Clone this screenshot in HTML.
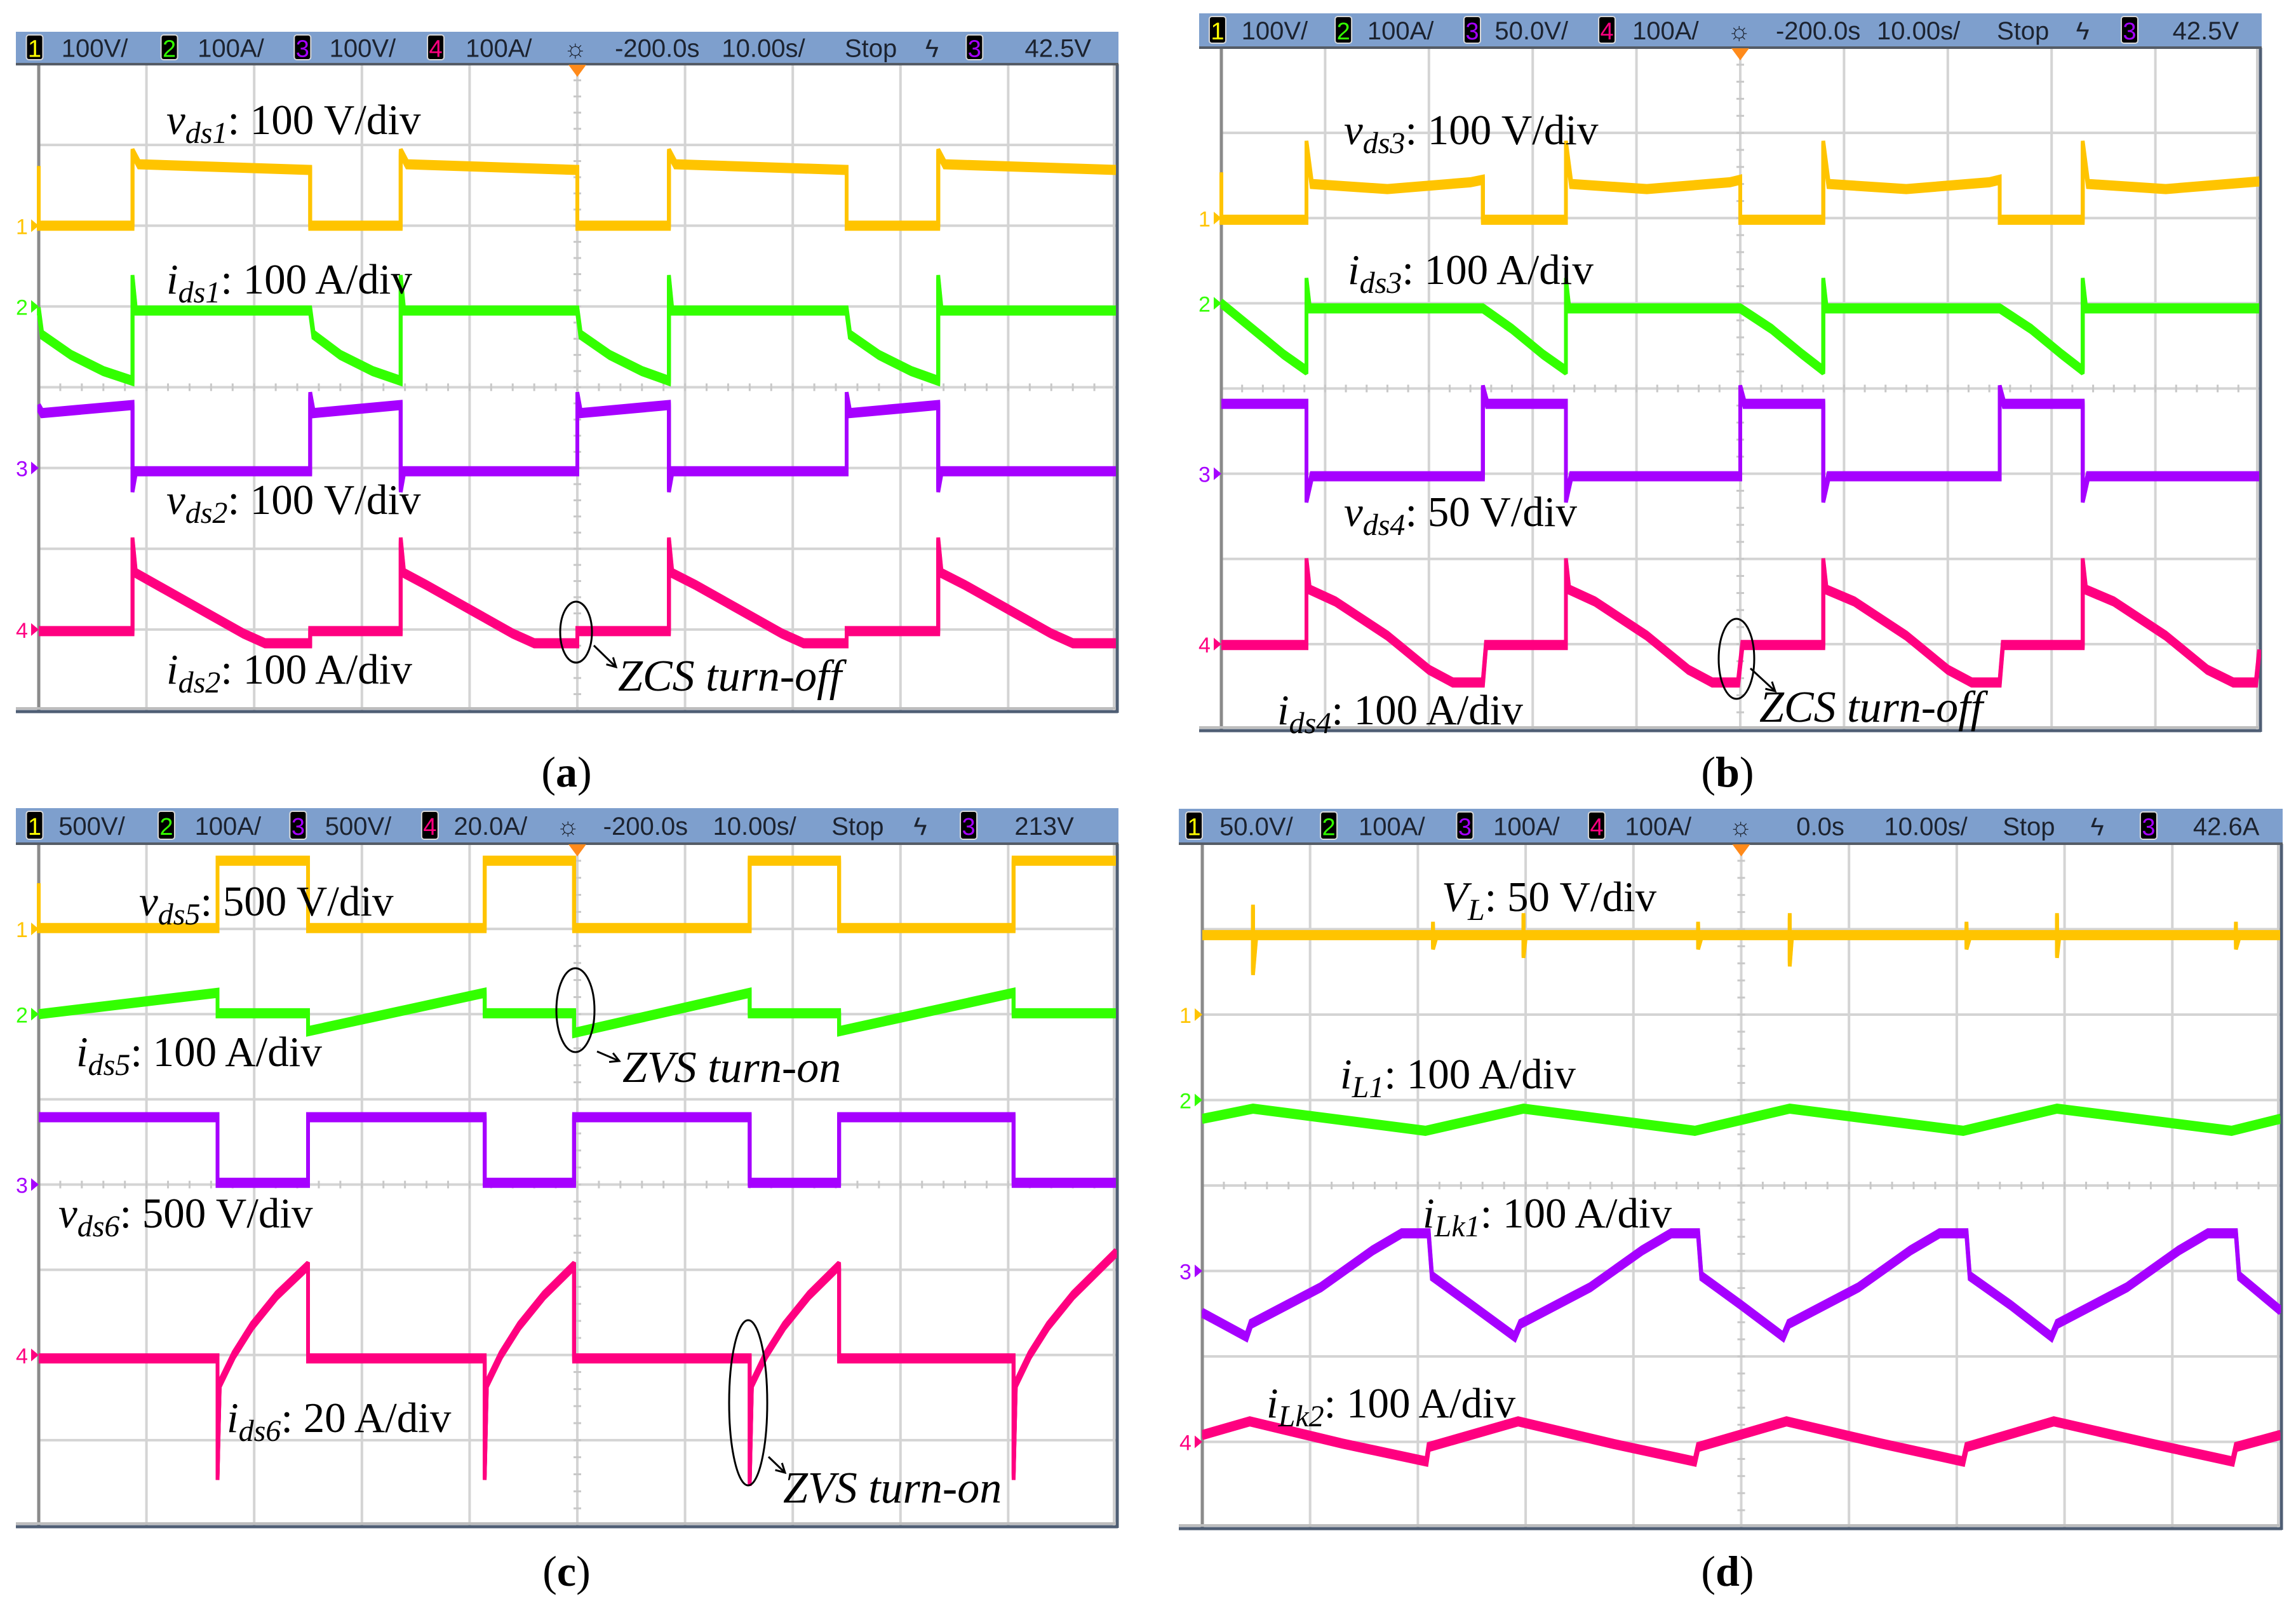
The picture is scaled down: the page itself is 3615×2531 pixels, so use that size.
<!DOCTYPE html>
<html><head><meta charset="utf-8">
<style>
html,body{margin:0;padding:0;background:#fff;}
svg{display:block;}
.hd{font-family:"Liberation Sans Narrow","Liberation Sans",sans-serif;font-size:40px;fill:#1c2330;}
.lb{font-family:"Liberation Serif",serif;font-size:67px;fill:#000;}
.nt{font-family:"Liberation Serif",serif;font-size:70px;fill:#000;font-style:italic;}
.sub{font-style:italic;font-size:48px;}
.it{font-style:italic;}
.cap{font-family:"Liberation Serif",serif;font-size:68px;fill:#000;}
</style></head>
<body>
<svg id="fig" width="3615" height="2531" viewBox="0 0 3615 2531" xmlns="http://www.w3.org/2000/svg"></svg>
<script>
// ---------- data (time in divisions 0-10, value in divisions 0-8 from top) ----------
const a_vds1 = [[0,1.3],[0,2.0],[0.87,2.0],[0.87,1.09],[0.93,1.24],[2.52,1.31],[2.52,2.0],[3.36,2.0],[3.36,1.09],[3.42,1.24],[5.0,1.31],[5.0,2.0],[5.85,2.0],[5.85,1.09],[5.91,1.24],[7.5,1.31],[7.5,2.0],[8.35,2.0],[8.35,1.09],[8.41,1.24],[10,1.31]];
const a_ids1 = [[0,3.05],[0.03,3.35],[0.3,3.6],[0.6,3.8],[0.87,3.92],[0.87,2.65],[0.9,3.05],[2.52,3.05],[2.55,3.35],[2.8,3.6],[3.1,3.8],[3.36,3.92],[3.36,2.65],[3.39,3.05],[5.0,3.05],[5.03,3.35],[5.3,3.6],[5.6,3.8],[5.85,3.92],[5.85,2.65],[5.88,3.05],[7.5,3.05],[7.53,3.35],[7.8,3.6],[8.1,3.8],[8.35,3.92],[8.35,2.65],[8.38,3.05],[10,3.05]];
const a_vds2 = [[0,4.25],[0.03,4.32],[0.87,4.22],[0.87,5.26],[0.9,5.04],[2.52,5.04],[2.52,4.1],[2.55,4.32],[3.36,4.22],[3.36,5.26],[3.39,5.04],[5.0,5.04],[5.0,4.1],[5.03,4.32],[5.85,4.22],[5.85,5.26],[5.88,5.04],[7.5,5.04],[7.5,4.1],[7.53,4.32],[8.35,4.22],[8.35,5.26],[8.38,5.04],[10,5.04]];
const a_ids2 = [[0,7.02],[0.87,7.02],[0.87,5.9],[0.9,6.3],[1.1,6.45],[1.5,6.75],[1.9,7.05],[2.1,7.17],[2.52,7.17],[2.52,7.02],[3.36,7.02],[3.36,5.9],[3.39,6.3],[3.6,6.45],[4.0,6.75],[4.4,7.05],[4.6,7.17],[5.0,7.17],[5.0,7.02],[5.85,7.02],[5.85,5.9],[5.88,6.3],[6.1,6.45],[6.5,6.75],[6.9,7.05],[7.1,7.17],[7.5,7.17],[7.5,7.02],[8.35,7.02],[8.35,5.9],[8.38,6.3],[8.6,6.45],[9.0,6.75],[9.4,7.05],[9.6,7.17],[10,7.17]];

const b_vds3 = [[0,1.5],[0,2.02],[0.82,2.02],[0.82,1.13],[0.87,1.6],[1.6,1.66],[2.4,1.58],[2.52,1.55],[2.52,2.02],[3.32,2.02],[3.32,1.13],[3.37,1.6],[4.1,1.66],[4.9,1.58],[5.0,1.55],[5.0,2.02],[5.8,2.02],[5.8,1.13],[5.85,1.6],[6.6,1.66],[7.4,1.58],[7.5,1.55],[7.5,2.02],[8.3,2.02],[8.3,1.13],[8.35,1.6],[9.1,1.66],[10,1.57]];
const b_ids3 = [[0,3.0],[0.3,3.3],[0.6,3.6],[0.82,3.79],[0.82,2.74],[0.85,3.06],[2.52,3.06],[2.8,3.3],[3.1,3.6],[3.32,3.79],[3.32,2.74],[3.35,3.06],[5.0,3.06],[5.3,3.3],[5.6,3.6],[5.8,3.79],[5.8,2.74],[5.83,3.06],[7.5,3.06],[7.8,3.3],[8.1,3.6],[8.3,3.79],[8.3,2.74],[8.33,3.06],[10,3.06]];
const b_vds4 = [[0,4.18],[0.82,4.18],[0.82,5.3],[0.87,5.03],[2.52,5.03],[2.52,4.0],[2.56,4.18],[3.32,4.18],[3.32,5.3],[3.37,5.03],[5.0,5.03],[5.0,4.0],[5.04,4.18],[5.8,4.18],[5.8,5.3],[5.85,5.03],[7.5,5.03],[7.5,4.0],[7.54,4.18],[8.3,4.18],[8.3,5.3],[8.35,5.03],[10,5.03]];
const b_ids4 = [[0,7.01],[0.82,7.01],[0.82,6.03],[0.85,6.36],[1.1,6.5],[1.6,6.9],[2.0,7.3],[2.23,7.45],[2.52,7.45],[2.55,7.01],[3.32,7.01],[3.32,6.03],[3.35,6.36],[3.6,6.5],[4.1,6.9],[4.5,7.3],[4.73,7.45],[4.98,7.45],[5.02,7.01],[5.8,7.01],[5.8,6.03],[5.83,6.36],[6.1,6.5],[6.6,6.9],[7.0,7.3],[7.23,7.45],[7.5,7.45],[7.53,7.01],[8.3,7.01],[8.3,6.03],[8.33,6.36],[8.6,6.5],[9.1,6.9],[9.5,7.3],[9.75,7.45],[9.97,7.45],[10,7.1]];

const c_vds5 = [[0,0.5],[0,0.99],[1.66,0.99],[1.66,0.2],[2.5,0.2],[2.5,0.99],[4.14,0.99],[4.14,0.2],[4.97,0.2],[4.97,0.99],[6.6,0.99],[6.6,0.2],[7.43,0.2],[7.43,0.99],[9.05,0.99],[9.05,0.2],[10,0.2]];
const c_ids5 = [[0,2.0],[1.66,1.75],[1.66,1.99],[2.5,1.99],[2.5,2.2],[4.14,1.75],[4.14,1.99],[4.97,1.99],[4.97,2.22],[6.6,1.75],[6.6,1.99],[7.43,1.99],[7.43,2.2],[9.05,1.75],[9.05,1.99],[10,1.99]];
const c_vds6 = [[0,3.21],[1.66,3.21],[1.66,3.98],[2.5,3.98],[2.5,3.21],[4.14,3.21],[4.14,3.98],[4.97,3.98],[4.97,3.21],[6.6,3.21],[6.6,3.98],[7.43,3.98],[7.43,3.21],[9.05,3.21],[9.05,3.98],[10,3.98]];
const c_ids6 = [[0,6.04],[1.66,6.04],[1.66,7.43],[1.68,6.34],[1.81,6.0],[1.98,5.66],[2.21,5.3],[2.5,4.95],[2.5,6.04],[4.14,6.04],[4.14,7.43],[4.16,6.34],[4.29,6.0],[4.46,5.66],[4.69,5.3],[4.97,4.95],[4.97,6.04],[6.6,6.04],[6.6,7.5],[6.62,6.34],[6.75,6.0],[6.92,5.66],[7.15,5.3],[7.43,4.95],[7.43,6.04],[9.05,6.04],[9.05,7.43],[9.07,6.34],[9.2,6.0],[9.37,5.66],[9.6,5.3],[10,4.8]];

const d_vl = [[0,1.07],[0.47,1.07],[0.47,0.75],[0.47,1.5],[0.5,1.07],[2.14,1.07],[2.14,0.95],[2.14,1.2],[2.17,1.07],[2.98,1.07],[2.98,0.85],[2.98,1.3],[3.0,1.07],[4.6,1.07],[4.6,0.95],[4.6,1.2],[4.63,1.07],[5.45,1.07],[5.45,0.85],[5.45,1.4],[5.47,1.07],[7.09,1.07],[7.09,0.95],[7.09,1.2],[7.12,1.07],[7.93,1.07],[7.93,0.85],[7.93,1.3],[7.95,1.07],[9.59,1.07],[9.59,0.95],[9.59,1.2],[9.62,1.07],[10,1.07]];
const d_il1 = [[0,3.22],[0.47,3.1],[2.07,3.36],[2.98,3.1],[4.57,3.36],[5.45,3.1],[7.06,3.36],[7.93,3.1],[9.55,3.36],[10,3.22]];
const d_ilk1 = [[0,5.49],[0.41,5.77],[0.45,5.62],[1.1,5.19],[1.58,4.76],[1.85,4.56],[2.1,4.56],[2.13,5.06],[2.5,5.4],[2.9,5.77],[2.95,5.62],[3.6,5.19],[4.08,4.76],[4.35,4.56],[4.6,4.56],[4.63,5.06],[5.0,5.4],[5.39,5.77],[5.44,5.62],[6.09,5.19],[6.57,4.76],[6.84,4.56],[7.09,4.56],[7.12,5.06],[7.5,5.4],[7.88,5.77],[7.93,5.62],[8.58,5.19],[9.06,4.76],[9.33,4.56],[9.59,4.56],[9.62,5.06],[10,5.46]];
const d_ilk2 = [[0,6.92],[0.44,6.76],[1.3,7.02],[2.08,7.23],[2.1,7.06],[2.93,6.76],[3.8,7.02],[4.57,7.23],[4.6,7.06],[5.42,6.76],[6.3,7.02],[7.06,7.23],[7.09,7.06],[7.9,6.76],[8.8,7.02],[9.56,7.23],[9.59,7.06],[10,6.92]];

const colYellow="#ffc400", colGreen="#33ff00", colPurple="#a600ff", colPink="#ff0080";

// ---------- panel geometry ----------
const panels = {
  a:{x0:61,x1:1757,y0:101,y1:1118,hx:25,hy:50,hh:51},
  b:{x0:1923,x1:3557,y0:75,y1:1148,hx:1888,hy:21,hh:54},
  c:{x0:61,x1:1757,y0:1328,y1:2401,hx:25,hy:1272,hh:56},
  d:{x0:1893,x1:3590,y0:1328,y1:2404,hx:1856,hy:1273,hh:55}
};
const NS="http://www.w3.org/2000/svg";
const svg=document.getElementById('fig');
function mk(tag,attrs,parent){const e=document.createElementNS(NS,tag);for(const k in attrs)e.setAttribute(k,attrs[k]);(parent||svg).appendChild(e);return e;}
function xs(p,t){return p.x0+(p.x1-p.x0)*t/10;}
function ys(p,v){return p.y0+(p.y1-p.y0)*v/8;}

function drawPanel(key){
  const p=panels[key];
  const g=mk('g',{});
  
  
  const grid=mk('g',{},g);
  
  
  for(let i=1;i<10;i++){const x=xs(p,i);mk('line',{x1:x,y1:p.y0,x2:x,y2:p.y1,stroke:'#d4d4d4','stroke-width':4},grid);}
  for(let j=1;j<8;j++){const y=ys(p,j);mk('line',{x1:p.x0,y1:y,x2:p.x1,y2:y,stroke:'#d4d4d4','stroke-width':4},grid);}
  const cx=xs(p,5), cy=ys(p,4);
  for(let k=1;k<40;k++){const y=p.y0+(p.y1-p.y0)*k/40;mk('line',{x1:cx-6,y1:y,x2:cx+6,y2:y,stroke:'#c8c8c8','stroke-width':3},grid);}
  for(let k=1;k<50;k++){const x=p.x0+(p.x1-p.x0)*k/50;mk('line',{x1:x,y1:cy-6,x2:x,y2:cy+6,stroke:'#c8c8c8','stroke-width':3},grid);}
  mk('line',{x1:p.x0,y1:p.y0,x2:p.x0,y2:p.y1,stroke:'#8a8a8a','stroke-width':5},g);
  mk('line',{x1:p.hx,y1:p.y1+2,x2:p.x1+3,y2:p.y1+2,stroke:'#4f5e74','stroke-width':5},g);
  mk('line',{x1:p.x1+2,y1:p.y0,x2:p.x1+2,y2:p.y1+4,stroke:'#4f5e74','stroke-width':5},g);
  mk('line',{x1:p.x1-3,y1:p.y0,x2:p.x1-3,y2:p.y1,stroke:'#cfcfcf','stroke-width':4},g);
  mk('line',{x1:p.hx,y1:p.y1-3,x2:p.x1,y2:p.y1-3,stroke:'#bdbdbd','stroke-width':4},g);
  const hb=mk('rect',{x:p.hx,y:p.hy,width:p.x1+4-p.hx,height:p.hh,fill:'#7e9fcd'},g);
  
  
  mk('line',{x1:p.hx,y1:p.hy+p.hh,x2:p.x1+4,y2:p.hy+p.hh,stroke:'#555c66','stroke-width':4},g);
  mk('polygon',{points:`${cx-14},${p.y0+1} ${cx+14},${p.y0+1} ${cx},${p.y0+20}`,fill:'#ff8a1a'},g);
  return g;
}

function drawTrace(key,data,color,name){
  const p=panels[key];
  const pts=data.map(d=>xs(p,d[0]).toFixed(1)+','+ys(p,d[1]).toFixed(1)).join(' ');
  const g=mk('g',{});
  
  
  [-5,-2.5,0,2.5,5].forEach(dy=>{
    mk('polyline',{points:pts,fill:'none',stroke:color,'stroke-width':6,'stroke-linejoin':'miter','stroke-miterlimit':2,transform:`translate(0,${dy})`},g);
  });
}

function chMarker(key,label,v,color){
  const p=panels[key];const y=ys(p,v);
  const t=mk('text',{x:p.x0-36,y:y+13,'font-family':'Liberation Sans, sans-serif','font-size':34,fill:color});
  t.textContent=label;
  
  
  mk('polygon',{points:`${p.x0-12},${y-10} ${p.x0},${y} ${p.x0-12},${y+10}`,fill:color});
}

function header(key,items){
  items.forEach(it=>{
    if(it.box){
      const r=mk('rect',{x:it.x,y:panels[key].hy+5,width:26,height:panels[key].hh-12,rx:4,fill:'#000',stroke:'#d8d8d8','stroke-width':2});
      
      
      const t=mk('text',{x:it.x+13,y:panels[key].hy+panels[key].hh/2+14,'text-anchor':'middle','font-family':'Liberation Sans, sans-serif','font-size':38,fill:it.c});
      t.textContent=it.box;
    } else {
      const t=mk('text',{x:it.x,y:panels[key].hy+panels[key].hh/2+14,class:'hd'});
      t.textContent=it.t;
      
      
    }
  });
}

function label(x,y,main,sub,rest,name){
  const t=mk('text',{x:x,y:y,class:'lb'});
  
  
  const a=mk('tspan',{class:'it'},t);a.textContent=main;
  const b=mk('tspan',{class:'sub',dy:14},t);b.textContent=sub;
  const c=mk('tspan',{dy:-14},t);c.textContent=rest;
}
function note(x,y,txt,name){
  const t=mk('text',{x:x,y:y,class:'nt'});t.textContent=txt;
  
  
}
function ell(cx,cy,rx,ry,ax1,ay1,ax2,ay2,name){
  const e=mk('ellipse',{cx:cx,cy:cy,rx:rx,ry:ry,fill:'none',stroke:'#000','stroke-width':3});
  
  
  mk('line',{x1:ax1,y1:ay1,x2:ax2,y2:ay2,stroke:'#000','stroke-width':3});
  const ang=Math.atan2(ay2-ay1,ax2-ax1);
  const L=16;
  mk('polyline',{points:`${ax2-L*Math.cos(ang-0.5)},${ay2-L*Math.sin(ang-0.5)} ${ax2},${ay2} ${ax2-L*Math.cos(ang+0.5)},${ay2-L*Math.sin(ang+0.5)}`,fill:'none',stroke:'#000','stroke-width':3});
}
function caption(x,y,txt){
  const t=mk('text',{x:x,y:y,class:'cap','text-anchor':'middle'});
  t.textContent='(';const b=mk('tspan',{'font-weight':'bold'},t);b.textContent=txt;
  const c=mk('tspan',{},t);c.textContent=')';
  
  
}

['a','b','c','d'].forEach(drawPanel);

const S=2.305;
header('a',[{box:'1',x:18*S,c:'#ffff00'},{t:'100V/',x:42*S},{box:'2',x:110*S,c:'#33ff00'},{t:'100A/',x:135*S},{box:'3',x:201*S,c:'#a600ff'},{t:'100V/',x:225*S},{box:'4',x:292*S,c:'#ff0080'},{t:'100A/',x:318*S},{t:'☼',x:385*S},{t:'-200.0s',x:420*S},{t:'10.00s/',x:493*S},{t:'Stop',x:577*S},{t:'ϟ',x:632*S},{box:'3',x:660*S,c:'#a600ff'},{t:'42.5V',x:700*S}]);
header('b',[{box:'1',x:826*S,c:'#ffff00'},{t:'100V/',x:848*S},{box:'2',x:912*S,c:'#33ff00'},{t:'100A/',x:934*S},{box:'3',x:1000*S,c:'#a600ff'},{t:'50.0V/',x:1021*S},{box:'4',x:1092*S,c:'#ff0080'},{t:'100A/',x:1115*S},{t:'☼',x:1180*S},{t:'-200.0s',x:1213*S},{t:'10.00s/',x:1282*S},{t:'Stop',x:1364*S},{t:'ϟ',x:1418*S},{box:'3',x:1449*S,c:'#a600ff'},{t:'42.5V',x:1484*S}]);
header('c',[{box:'1',x:18*S,c:'#ffff00'},{t:'500V/',x:40*S},{box:'2',x:108*S,c:'#33ff00'},{t:'100A/',x:133*S},{box:'3',x:198*S,c:'#a600ff'},{t:'500V/',x:222*S},{box:'4',x:288*S,c:'#ff0080'},{t:'20.0A/',x:310*S},{t:'☼',x:380*S},{t:'-200.0s',x:412*S},{t:'10.00s/',x:487*S},{t:'Stop',x:568*S},{t:'ϟ',x:624*S},{box:'3',x:656*S,c:'#a600ff'},{t:'213V',x:693*S}]);
header('d',[{box:'1',x:810*S,c:'#ffff00'},{t:'50.0V/',x:833*S},{box:'2',x:902*S,c:'#33ff00'},{t:'100A/',x:928*S},{box:'3',x:995*S,c:'#a600ff'},{t:'100A/',x:1020*S},{box:'4',x:1085*S,c:'#ff0080'},{t:'100A/',x:1110*S},{t:'☼',x:1181*S},{t:'0.0s',x:1227*S},{t:'10.00s/',x:1287*S},{t:'Stop',x:1368*S},{t:'ϟ',x:1428*S},{box:'3',x:1462*S,c:'#a600ff'},{t:'42.6A',x:1498*S}]);

[['a',[2,3,5,7]],['b',[2,3,5,7]],['c',[1,2,4,6]],['d',[2,3,5,7]]].forEach(([k,v])=>{
  chMarker(k,'1',v[0],colYellow);chMarker(k,'2',v[1],colGreen);chMarker(k,'3',v[2],colPurple);chMarker(k,'4',v[3],colPink);
});

drawTrace('a',a_vds1,colYellow,'trace-vds1');
drawTrace('a',a_ids1,colGreen,'trace-ids1');
drawTrace('a',a_vds2,colPurple,'trace-vds2');
drawTrace('a',a_ids2,colPink,'trace-ids2');
drawTrace('b',b_vds3,colYellow,'trace-vds3');
drawTrace('b',b_ids3,colGreen,'trace-ids3');
drawTrace('b',b_vds4,colPurple,'trace-vds4');
drawTrace('b',b_ids4,colPink,'trace-ids4');
drawTrace('c',c_vds5,colYellow,'trace-vds5');
drawTrace('c',c_ids5,colGreen,'trace-ids5');
drawTrace('c',c_vds6,colPurple,'trace-vds6');
drawTrace('c',c_ids6,colPink,'trace-ids6');
drawTrace('d',d_vl,colYellow,'trace-vl');
drawTrace('d',d_il1,colGreen,'trace-il1');
drawTrace('d',d_ilk1,colPurple,'trace-ilk1');
drawTrace('d',d_ilk2,colPink,'trace-ilk2');

label(262,211,'v','ds1',': 100 V/div','label-vds1');
label(262,462,'i','ds1',': 100 A/div','label-ids1');
label(262,809,'v','ds2',': 100 V/div','label-vds2');
label(262,1076,'i','ds2',': 100 A/div','label-ids2');
ell(907,995,25,48,935,1016,970,1050,'zcs-ellipse-a');
note(973,1087,'ZCS turn-off','annotation-zcs-a');

label(2116,227,'v','ds3',': 100 V/div','label-vds3');
label(2122,447,'i','ds3',': 100 A/div','label-ids3');
label(2116,828,'v','ds4',': 50 V/div','label-vds4');
label(2011,1140,'i','ds4',': 100 A/div','label-ids4');
ell(2734,1037,28,63,2756,1052,2795,1088,'zcs-ellipse-b');
note(2770,1136,'ZCS turn-off','annotation-zcs-b');

label(219,1441,'v','ds5',': 500 V/div','label-vds5');
label(120,1678,'i','ds5',': 100 A/div','label-ids5');
label(92,1932,'v','ds6',': 500 V/div','label-vds6');
label(357,2254,'i','ds6',': 20 A/div','label-ids6');
ell(906,1590,30,66,940,1655,975,1670,'zvs-ellipse-1');
note(980,1703,'ZVS turn-on','annotation-zvs-1');
ell(1178,2208,30,130,1210,2293,1236,2318,'zvs-ellipse-2');
note(1233,2365,'ZVS turn-on','annotation-zvs-2');

const t1=mk('text',{x:2270,y:1434,class:'lb'});


{const a=mk('tspan',{class:'it'},t1);a.textContent='V';const b=mk('tspan',{class:'sub',dy:14},t1);b.textContent='L';const c=mk('tspan',{dy:-14},t1);c.textContent=': 50 V/div';}
label(2110,1713,'i','L1',': 100 A/div','label-il1');
label(2240,1932,'i','Lk1',': 100 A/div','label-ilk1');
label(1994,2231,'i','Lk2',': 100 A/div','label-ilk2');

caption(892,1238,'a');
caption(2720,1238,'b');
caption(892,2496,'c');
caption(2720,2496,'d');
</script>
</body></html>
